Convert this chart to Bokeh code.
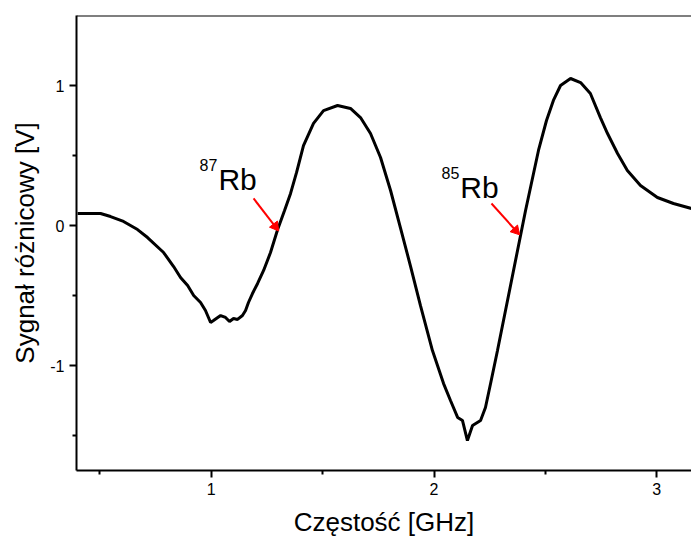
import math
from bokeh.plotting import figure
from bokeh.models import Range1d, FixedTicker, Span, Label
from bokeh.embed import file_html
from bokeh.resources import INLINE

# Frequency [GHz] and differential signal [V]
freq = [0.400, 0.503, 0.548, 0.606, 0.669, 0.714, 0.786, 0.831, 0.862, 0.894,
        0.921, 0.952, 0.974, 0.997, 1.010, 1.042, 1.064, 1.082, 1.100, 1.118,
        1.140, 1.154, 1.167, 1.185, 1.208, 1.235, 1.266, 1.298, 1.329, 1.356,
        1.383, 1.414, 1.459, 1.504, 1.567, 1.625, 1.670, 1.715, 1.760, 1.805,
        1.850, 1.895, 1.939, 1.993, 2.043, 2.074, 2.106, 2.128, 2.150, 2.173,
        2.209, 2.231, 2.254, 2.285, 2.321, 2.357, 2.411, 2.469, 2.505, 2.536,
        2.568, 2.613, 2.658, 2.702, 2.747, 2.779, 2.824, 2.868, 2.927, 3.003,
        3.075, 3.156]
signal = [0.086, 0.086, 0.064, 0.029, -0.029, -0.086, -0.193, -0.293, -0.371, -0.429,
          -0.500, -0.550, -0.607, -0.693, -0.679, -0.643, -0.657, -0.686, -0.664, -0.671,
          -0.643, -0.607, -0.550, -0.486, -0.414, -0.321, -0.193, -0.029, 0.107, 0.229,
          0.379, 0.571, 0.729, 0.821, 0.857, 0.836, 0.771, 0.657, 0.486, 0.250,
          -0.021, -0.293, -0.571, -0.893, -1.129, -1.250, -1.371, -1.393, -1.536, -1.429,
          -1.393, -1.300, -1.129, -0.893, -0.607, -0.321, 0.107, 0.536, 0.750, 0.893,
          1.000, 1.050, 1.021, 0.943, 0.771, 0.657, 0.514, 0.393, 0.286, 0.200,
          0.157, 0.121]

x_ticks = [1, 2, 3]
x_minor = [0.5, 1.5, 2.5]
y_ticks = [-1, 0, 1]
y_minor = [-1.5, -0.5, 0.5]
y_tick_text = ["-1", "0", "1"]
x_tick_text = ["1", "2", "3"]

# Annotations: isotope labels and arrows (data units)
iso_mass = ["87", "85"]
iso_text_x = [1.032, 2.118]
iso_text_y = [0.329, 0.273]
arrow_x0 = [1.190, 2.258]
arrow_y0 = [0.193, 0.157]
arrow_x1 = [1.298, 2.379]
arrow_y1 = [-0.029, -0.057]

X_MIN, X_MAX = 0.395, 3.156
Y_MIN, Y_MAX = -1.75, 1.5
W, H = 691, 539
LEFT, TOP, BOTTOM = 76, 15, 69
FONT = "Liberation Sans"

p = figure(width=W, height=H, output_backend="svg", toolbar_location=None,
           x_range=Range1d(X_MIN, X_MAX), y_range=Range1d(Y_MIN, Y_MAX),
           min_border_left=LEFT, min_border_right=0, min_border_top=TOP,
           min_border_bottom=BOTTOM)
p.outline_line_color = None
p.xgrid.grid_line_color = None
p.ygrid.grid_line_color = None

p.line(freq, signal, line_color="black", line_width=3)

xa = p.xaxis[0]
ya = p.yaxis[0]
xa.axis_label = "Częstość [GHz]"
ya.axis_label = "Sygnał różnicowy [V]"
for ax, maj, mino, txt in ((xa, x_ticks, x_minor, x_tick_text),
                           (ya, y_ticks, y_minor, y_tick_text)):
    ax.ticker = FixedTicker(ticks=maj, minor_ticks=mino)
    ax.major_label_overrides = dict(zip(maj, txt))
    ax.axis_line_width = 2
    ax.major_tick_line_color = "black"
    ax.major_tick_line_width = 2
    ax.major_tick_out = 7
    ax.major_tick_in = 0
    ax.minor_tick_line_color = "black"
    ax.minor_tick_line_width = 2
    ax.minor_tick_out = 4
    ax.minor_tick_in = 0
    ax.major_label_text_font = FONT
    ax.major_label_text_font_size = "16px"
    ax.major_label_text_color = "black"
    ax.major_label_standoff = 5
    ax.axis_label_text_font = FONT
    ax.axis_label_text_font_size = "26px"
    ax.axis_label_text_font_style = "normal"
    ax.axis_label_text_color = "black"
xa.axis_label_standoff = 9
ya.axis_label_standoff = 7

# top frame line
p.add_layout(Span(location=Y_MAX, dimension="width", line_color="black",
                  line_width=2))

for m, tx, ty in zip(iso_mass, iso_text_x, iso_text_y):
    p.add_layout(Label(x=tx, y=ty, text="Rb", text_font=FONT,
                       text_font_size="30px", text_color="black",
                       text_baseline="alphabetic", text_align="left"))
    p.add_layout(Label(x=tx, y=ty, x_offset=-1, y_offset=14, text=m,
                       text_font=FONT, text_font_size="16px", text_color="black",
                       text_baseline="alphabetic", text_align="right"))

# red arrows: shaft as segment, head as rotated triangle marker
px_x = (W - LEFT) / (X_MAX - X_MIN)
px_y = (H - TOP - BOTTOM) / (Y_MAX - Y_MIN)
head_x, head_y, head_a, shaft_x1, shaft_y1 = [], [], [], [], []
for xs, ys, xe, ye in zip(arrow_x0, arrow_y0, arrow_x1, arrow_y1):
    dxp, dyp = (xe - xs) * px_x, (ye - ys) * px_y
    n = math.hypot(dxp, dyp)
    ux, uy = dxp / n, dyp / n
    head_x.append(xe - 4 * ux / px_x)
    head_y.append(ye - 4 * uy / px_y)
    head_a.append(math.atan2(dyp, dxp) - math.pi / 2)
    shaft_x1.append(xe - 6 * ux / px_x)
    shaft_y1.append(ye - 6 * uy / px_y)
p.segment(arrow_x0, arrow_y0, shaft_x1, shaft_y1, line_color="red", line_width=2)
p.scatter(head_x, head_y, marker="triangle", size=10, angle=head_a,
          fill_color="red", line_color="red")

open("out.html", "w").write(file_html(p, INLINE))
